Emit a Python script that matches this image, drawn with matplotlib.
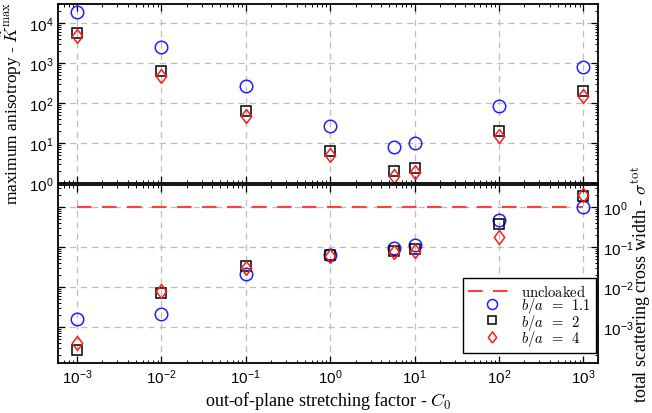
import matplotlib
matplotlib.use("Agg")
import matplotlib.pyplot as plt
from matplotlib.ticker import FuncFormatter, LogLocator, NullFormatter
from matplotlib.font_manager import FontProperties
import numpy as np

plt.rcParams['font.family'] = ['Liberation Serif', 'DejaVu Serif']
plt.rcParams['mathtext.fontset'] = 'custom'
plt.rcParams['mathtext.rm'] = 'Liberation Sans'
plt.rcParams['mathtext.it'] = 'Liberation Sans:italic'
plt.rcParams['mathtext.bf'] = 'Liberation Sans:bold'
plt.rcParams['mathtext.sf'] = 'Liberation Sans'

# ---- data ----
C0 = [1e-3, 1e-2, 1e-1, 1.0, 5.7, 10.0, 100.0, 1000.0]

K_b11 = [1.9e4, 2.45e3, 260, 27, 8.1, 10.3, 85, 820]
K_b2 = [5.7e3, 620, 62, 6.4, 1.95, 2.4, 20, 200]
K_b4 = [4.7e3, 470, 47, 4.9, 1.48, 1.85, 15, 150]

S_b11 = [1.6e-3, 2.15e-3, 0.021, 0.062, 0.096, 0.115, 0.47, 1.0]
S_b2 = [2.75e-4, 7.3e-3, 0.033, 0.062, 0.080, 0.087, 0.37, 1.9]
S_b4 = [4.0e-4, 8.2e-3, 0.030, 0.060, 0.075, 0.080, 0.18, 2.0]

uncloaked_x = [1e-3, 1e3]
uncloaked_y = [1.0, 1.0]

labels = [r'$\mathrm{uncloaked}\;\,$', r'$b/a\enspace=\enspace1.1\;\,$',
          r'$b/a\enspace=\enspace2\;\,$', r'$b/a\enspace=\enspace4\;\,$']

# ---- figure ----
W, H = 652, 414
fig = plt.figure(figsize=(W / 100, H / 100), dpi=100)
left = 58.3 / W
width = 540 / W
ax1 = fig.add_axes([left, (H - 184) / H, width, 179 / H])
ax2 = fig.add_axes([left, (H - 364) / H, width, 178 / H])

diamond = [(0, -1), (0.75, 0), (0, 1), (-0.75, 0), (0, -1)]
blue = '#1f1fff'
red = '#ff1a1a'

def sf_fmt(v, pos):
    e = int(round(np.log10(v)))
    return r'$\mathrm{10^{%d}}$' % e

for ax in (ax1, ax2):
    ax.set_xscale('log')
    ax.set_yscale('log')
    ax.set_xlim(6e-4, 1.5e3)
    ax.grid(True, which='major', linestyle=(0, (5, 4)), color='#bdbdbd', linewidth=0.9)
    ax.set_axisbelow(True)
    ax.tick_params(which='both', direction='in', top=True, bottom=True, left=True, right=True)
    ax.tick_params(which='major', length=5, width=0.9, labelsize=11)
    ax.tick_params(which='minor', length=2.5, width=0.7)
    for s in ax.spines.values():
        s.set_linewidth(1.3)
    ax.xaxis.set_major_locator(LogLocator(base=10, numticks=20))
    ax.xaxis.set_minor_locator(LogLocator(base=10, subs=np.arange(2, 10), numticks=20))
    ax.xaxis.set_minor_formatter(NullFormatter())
    ax.yaxis.set_minor_formatter(NullFormatter())

ms_c = 9
ms_s = 6.5
ms_d = 10
mew = 1.1

# top panel
ax1.plot(C0, K_b11, 'o', mfc='none', mec=blue, ms=ms_c, mew=mew, ls='none')
ax1.plot(C0, K_b2, 's', mfc='none', mec='black', ms=ms_s, mew=mew, ls='none')
ax1.plot(C0, K_b4, marker=diamond, mfc='none', mec=red, ms=ms_d, mew=mew, ls='none')
ax1.set_ylim(1, 3e4)
ax1.yaxis.set_major_locator(LogLocator(base=10, numticks=10))
ax1.yaxis.set_minor_locator(LogLocator(base=10, subs=np.arange(2, 10), numticks=10))
ax1.yaxis.set_major_formatter(FuncFormatter(sf_fmt))
ax1.tick_params(labelbottom=False)
ax1.set_ylabel(r'maximum anisotropy - $\tilde{K}^{\mathrm{max}}$', fontsize=12.5,
               math_fontfamily='cm')
ax1.yaxis.set_label_coords(-0.064, 0.45)

# bottom panel
l0, = ax2.plot(uncloaked_x, uncloaked_y, ls=(0, (7, 5)), color='#ff4040', lw=1.5)
l1, = ax2.plot(C0, S_b11, 'o', mfc='none', mec=blue, ms=ms_c, mew=mew, ls='none')
l2, = ax2.plot(C0, S_b2, 's', mfc='none', mec='black', ms=ms_s, mew=mew, ls='none')
l3, = ax2.plot(C0, S_b4, marker=diamond, mfc='none', mec=red, ms=ms_d, mew=mew, ls='none')
ax2.set_ylim(1.28e-4, 3.5)
ax2.yaxis.set_major_locator(LogLocator(base=10, numticks=10))
ax2.yaxis.set_minor_locator(LogLocator(base=10, subs=np.arange(2, 10), numticks=10))
ax2.yaxis.set_major_formatter(FuncFormatter(sf_fmt))
ax2.xaxis.set_major_formatter(FuncFormatter(sf_fmt))
ax2.tick_params(labelleft=False, labelright=True)
ax2.yaxis.set_label_position('right')
ax2.set_ylabel(r'total scattering cross width - $\sigma^{\mathrm{tot}}$', fontsize=13,
               math_fontfamily='cm')
ax2.yaxis.set_label_coords(1.058, 0.45)
ax2.set_xlabel(r'out-of-plane stretching factor - $C_0$', fontsize=13, labelpad=2,
               math_fontfamily='cm')

legprop = FontProperties(family=['Liberation Serif'], size=10.5, math_fontfamily='cm')
leg = ax2.legend([l0, l1, l2, l3], labels, loc='lower right', prop=legprop,
                 bbox_to_anchor=(0.9957, 10 / 178), markerscale=0.8,
                 frameon=True, fancybox=False, framealpha=1, edgecolor='black',
                 handlelength=3.3, borderpad=0.35, labelspacing=-0.25,
                 handletextpad=0.35, borderaxespad=0.0)
leg.get_frame().set_linewidth(1.0)

fig.savefig('out.png', dpi=100)
